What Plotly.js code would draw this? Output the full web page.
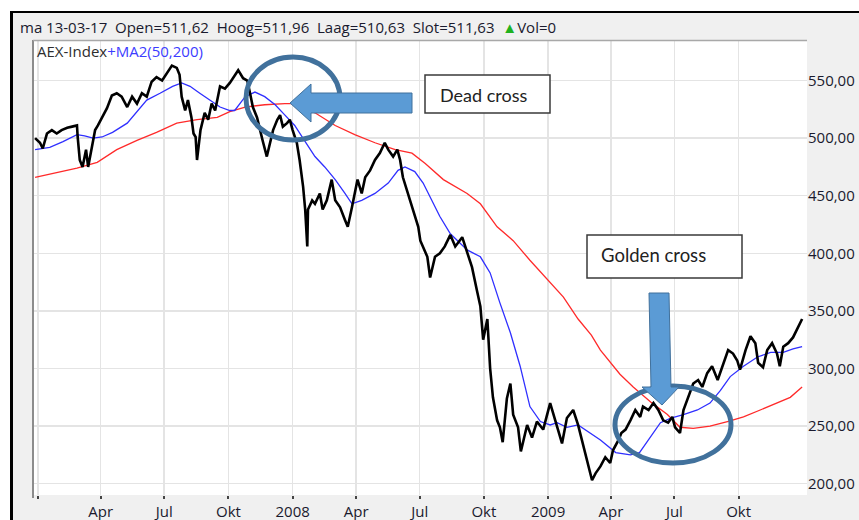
<!DOCTYPE html>
<html><head><meta charset="utf-8">
<script src="https://cdn.plot.ly/plotly-3.0.1.min.js"></script>
<style>html,body{margin:0;padding:0;background:#fff;} #chart{width:859px;height:520px;}</style>
</head><body><div id="chart"></div>
<script>
// AEX index (approximate closes)
const indexDates = ['2006-12-28','2007-01-04','2007-01-08','2007-01-14','2007-01-21','2007-01-28','2007-02-04','2007-02-12','2007-02-19','2007-02-26','2007-02-27','2007-03-02','2007-03-06','2007-03-11','2007-03-14','2007-03-19','2007-03-24','2007-03-28','2007-04-03','2007-04-10','2007-04-17','2007-04-24','2007-05-01','2007-05-09','2007-05-16','2007-05-23','2007-05-30','2007-06-06','2007-06-13','2007-06-20','2007-06-28','2007-07-05','2007-07-12','2007-07-19','2007-07-23','2007-07-26','2007-07-31','2007-08-04','2007-08-09','2007-08-12','2007-08-15','2007-08-17','2007-08-22','2007-08-28','2007-09-02','2007-09-07','2007-09-12','2007-09-19','2007-09-26','2007-10-03','2007-10-10','2007-10-15','2007-10-22','2007-10-28','2007-11-01','2007-11-05','2007-11-11','2007-11-15','2007-11-19','2007-11-25','2007-11-30','2007-12-04','2007-12-10','2007-12-14','2007-12-18','2007-12-24','2007-12-28','2008-01-01','2008-01-07','2008-01-11','2008-01-16','2008-01-19','2008-01-22','2008-01-23','2008-01-29','2008-02-02','2008-02-09','2008-02-13','2008-02-19','2008-02-26','2008-03-02','2008-03-09','2008-03-16','2008-03-20','2008-03-26','2008-03-30','2008-04-03','2008-04-09','2008-04-14','2008-04-21','2008-04-28','2008-05-05','2008-05-12','2008-05-17','2008-05-24','2008-05-30','2008-06-03','2008-06-07','2008-06-14','2008-06-21','2008-06-29','2008-07-02','2008-07-06','2008-07-12','2008-07-16','2008-07-23','2008-07-30','2008-08-06','2008-08-14','2008-08-21','2008-08-31','2008-09-07','2008-09-14','2008-09-21','2008-09-26','2008-09-30','2008-10-06','2008-10-10','2008-10-14','2008-10-20','2008-10-24','2008-10-28','2008-11-03','2008-11-08','2008-11-12','2008-11-19','2008-11-23','2008-12-02','2008-12-09','2008-12-16','2008-12-25','2009-01-04','2009-01-11','2009-01-21','2009-01-28','2009-02-06','2009-02-13','2009-02-20','2009-02-27','2009-03-05','2009-03-10','2009-03-17','2009-03-24','2009-03-31','2009-04-04','2009-04-12','2009-04-16','2009-04-22','2009-04-29','2009-05-06','2009-05-13','2009-05-17','2009-05-25','2009-06-01','2009-06-08','2009-06-15','2009-06-22','2009-06-28','2009-07-02','2009-07-09','2009-07-14','2009-07-21','2009-07-28','2009-08-04','2009-08-10','2009-08-17','2009-08-24','2009-09-01','2009-09-08','2009-09-16','2009-09-23','2009-09-29','2009-10-03','2009-10-11','2009-10-18','2009-10-25','2009-10-29','2009-11-05','2009-11-11','2009-11-18','2009-11-25','2009-11-29','2009-12-04','2009-12-11','2009-12-18','2009-12-26','2009-12-31'];
const indexValues = [500,496,491,504,507,504,507,509,510,511,501,481,475,490,475,492,507,511,518,526,537,539,536,527,536,530,539,536,549,553,550,556,563,561,555,536,524,533,518,504,501,481,507,522,516,530,524,545,543,548,555,559,552,550,539,527,518,507,498,484,496,507,516,520,510,513,516,507,496,481,458,438,406,438,446,443,452,438,446,464,446,440,429,423,440,452,464,452,466,472,481,487,496,490,484,490,481,466,452,438,423,411,406,397,379,397,400,406,416,406,414,400,388,368,354,325,343,300,275,255,249,236,274,287,260,249,228,251,240,254,247,270,255,235,257,264,251,235,218,203,209,215,223,218,229,238,244,247,255,264,258,267,264,270,264,255,253,258,249,244,264,275,287,290,284,296,302,290,302,316,313,307,299,316,328,322,305,301,316,322,313,302,319,322,327,336,343];

// 50-day moving average (blue)
const ma50Dates = ['2006-12-28','2007-01-18','2007-02-06','2007-02-26','2007-03-09','2007-03-21','2007-04-03','2007-04-18','2007-05-09','2007-05-23','2007-06-06','2007-06-25','2007-07-13','2007-07-26','2007-08-07','2007-08-21','2007-09-04','2007-09-19','2007-10-03','2007-10-10','2007-10-25','2007-11-08','2007-11-22','2007-12-07','2007-12-21','2008-01-04','2008-01-19','2008-02-02','2008-02-16','2008-03-02','2008-03-16','2008-03-26','2008-04-09','2008-04-28','2008-05-17','2008-05-31','2008-06-10','2008-06-24','2008-07-06','2008-07-30','2008-08-14','2008-09-07','2008-09-26','2008-10-10','2008-10-24','2008-11-08','2008-11-22','2008-12-06','2008-12-21','2009-01-04','2009-01-14','2009-01-28','2009-02-13','2009-03-17','2009-04-08','2009-04-29','2009-05-12','2009-05-28','2009-06-11','2009-06-26','2009-07-14','2009-08-03','2009-08-21','2009-09-05','2009-09-19','2009-10-08','2009-10-28','2009-11-16','2009-12-04','2009-12-18','2009-12-31'];
const ma50Values = [490,492,497,503,502,500,501,505,513,523,533,539,545,548,545,539,533,527,524,524,536,540,536,529,520,511,497,484,475,464,452,443,446,452,461,472,475,471,461,432,417,403,397,383,357,331,302,267,254,251,253,249,251,238,227,225,227,241,253,257,260,264,270,281,293,302,310,314,314,317,319];

// 200-day moving average (red)
const ma200Dates = ['2006-12-28','2007-01-28','2007-02-26','2007-03-27','2007-04-24','2007-05-23','2007-06-20','2007-07-19','2007-08-17','2007-09-15','2007-10-03','2007-10-25','2007-11-22','2007-12-21','2008-01-04','2008-02-02','2008-03-02','2008-03-30','2008-04-28','2008-05-27','2008-06-20','2008-07-09','2008-08-04','2008-09-07','2008-09-26','2008-10-20','2008-11-12','2008-12-06','2008-12-31','2009-01-23','2009-02-13','2009-03-04','2009-03-17','2009-03-31','2009-04-14','2009-05-03','2009-05-28','2009-06-21','2009-07-09','2009-07-28','2009-08-21','2009-09-15','2009-10-08','2009-11-01','2009-11-25','2009-12-14','2009-12-31'];
const ma200Values = [466,470,474,479,490,498,505,513,516,518,523,527,529,530,530,522,511,503,496,490,487,478,464,452,443,423,411,394,377,362,343,329,316,305,295,284,271,260,249,248,250,254,258,264,270,275,284];

const tickDates = ['2007-01-01','2007-04-01','2007-07-01','2007-10-01','2008-01-01','2008-04-01','2008-07-01','2008-10-01','2009-01-01','2009-04-01','2009-07-01','2009-10-01'];
const tickLabels = ['','Apr','Jul','Okt','2008','Apr','Jul','Okt','2009','Apr','Jul','Okt'];
const yTicks = [200,250,300,350,400,450,500,550];

const W = 859, H = 520, L = 33, R = 807, T = 40, B = 495;
const px = x => (x - L) / (R - L);
const py = y => (B - y) / (B - T);

const traces = [
  {x: ma200Dates, y: ma200Values, type: 'scatter', mode: 'lines', line: {color: '#ff2a2a', width: 1.3}, hoverinfo: 'skip'},
  {x: ma50Dates, y: ma50Values, type: 'scatter', mode: 'lines', line: {color: '#2f2fff', width: 1.3}, hoverinfo: 'skip'},
  {x: indexDates, y: indexValues, type: 'scatter', mode: 'lines', line: {color: '#000000', width: 2.6}, hoverinfo: 'skip'}
];

function path(pts) {
  return 'M' + pts.map(p => px(p[0]) + ',' + py(p[1])).join(' L') + ' Z';
}

const ringColor = '#41719c';
const arrowFill = '#5b9bd5';

const shapes = [
  {type: 'rect', xref: 'paper', yref: 'paper', x0: px(0), x1: px(10), y0: py(H), y1: py(0), fillcolor: '#ffffff', line: {width: 0}, layer: 'above'},
  {type: 'rect', xref: 'paper', yref: 'paper', x0: px(0), x1: px(W), y0: py(11), y1: py(0), fillcolor: '#ffffff', line: {width: 0}, layer: 'above'},
  {type: 'line', xref: 'paper', yref: 'paper', x0: px(11.5), x1: px(11.5), y0: py(11), y1: py(H), line: {color: '#000', width: 3}, layer: 'above'},
  {type: 'line', xref: 'paper', yref: 'paper', x0: px(10), x1: px(W), y0: py(12), y1: py(12), line: {color: '#000', width: 2}, layer: 'above'},
  {type: 'line', xref: 'paper', yref: 'paper', x0: px(33), x1: px(33), y0: py(40), y1: py(498), line: {color: '#8c8c8c', width: 2}, layer: 'above'},
  {type: 'line', xref: 'paper', yref: 'paper', x0: px(33), x1: px(807), y0: py(40.5), y1: py(40.5), line: {color: '#a8a8a8', width: 1.5}, layer: 'above'},
  {type: 'circle', xref: 'paper', yref: 'paper', x0: px(246), x1: px(340), y0: py(140), y1: py(57), line: {color: ringColor, width: 5}, layer: 'above'},
  {type: 'path', xref: 'paper', yref: 'paper', path: path([[290,103],[311,84],[311,93],[412,93],[412,113],[311,113],[311,122]]), fillcolor: arrowFill, line: {color: ringColor, width: 1}, layer: 'above'},
  {type: 'circle', xref: 'paper', yref: 'paper', x0: px(615), x1: px(731), y0: py(463), y1: py(386), line: {color: ringColor, width: 5}, layer: 'above'},
  {type: 'path', xref: 'paper', yref: 'paper', path: path([[649,293],[669,293],[671,387],[679,387],[662,405],[642,387],[651,387]]), fillcolor: arrowFill, line: {color: ringColor, width: 1}, layer: 'above'},
  {type: 'rect', xref: 'paper', yref: 'paper', x0: px(425), x1: px(550), y0: py(113), y1: py(75), fillcolor: '#ffffff', line: {color: '#3a3a3a', width: 1.5}, layer: 'above'},
  {type: 'rect', xref: 'paper', yref: 'paper', x0: px(587), x1: px(742), y0: py(278), y1: py(235), fillcolor: '#ffffff', line: {color: '#3a3a3a', width: 1.5}, layer: 'above'}
];

const annotations = [
  {xref: 'paper', yref: 'paper', x: px(18), y: py(27), xanchor: 'left', yanchor: 'middle', showarrow: false,
   text: 'ma 13-03-17&nbsp; Open=511,62&nbsp; Hoog=511,96&nbsp; Laag=510,63&nbsp; Slot=511,63&nbsp; <span style="color:#1fb21f">▲</span>Vol=0',
   font: {family: 'Open Sans', size: 15, color: '#1a1a2e'}},
  {xref: 'paper', yref: 'paper', x: px(35), y: py(51), xanchor: 'left', yanchor: 'middle', showarrow: false,
   text: 'AEX-Index<span style="color:#3c3cff">+MA2(50,200)</span>',
   font: {family: 'Open Sans', size: 15, color: '#2e2e2e'}},
  {xref: 'paper', yref: 'paper', x: px(438), y: py(95), xanchor: 'left', yanchor: 'middle', showarrow: false,
   text: 'Dead cross', font: {family: 'Lato', size: 18, color: '#222'}},
  {xref: 'paper', yref: 'paper', x: px(599), y: py(255), xanchor: 'left', yanchor: 'middle', showarrow: false,
   text: 'Golden cross', font: {family: 'Lato', size: 18.5, color: '#222'}}
];

const layout = {
  width: W, height: H,
  margin: {l: L, r: W - R, t: T, b: H - B, pad: 0},
  paper_bgcolor: '#f0f0f0', plot_bgcolor: '#ffffff',
  separators: ',.',
  showlegend: false,
  font: {family: 'Open Sans', size: 15, color: '#1a1a2e'},
  xaxis: {type: 'date', range: ['2006-12-25', '2010-01-07'], tickmode: 'array', tickvals: tickDates, ticktext: tickLabels,
          ticks: 'outside', ticklen: 3, tickwidth: 2, tickcolor: '#444', showgrid: true, gridcolor: '#e4e4e4', gridwidth: 1.5,
          zeroline: false, showline: false, fixedrange: true, tickfont: {size: 15}},
  yaxis: {side: 'right', range: [190.2, 585.2], tickmode: 'array', tickvals: yTicks, tickformat: '.2f', ticks: '',
          showgrid: true, gridcolor: '#e4e4e4', gridwidth: 1.5, zeroline: false, showline: false, fixedrange: true, tickfont: {size: 15}},
  shapes: shapes,
  annotations: annotations
};

Plotly.newPlot('chart', traces, layout, {displayModeBar: false, staticPlot: true});
</script>
</body></html>
